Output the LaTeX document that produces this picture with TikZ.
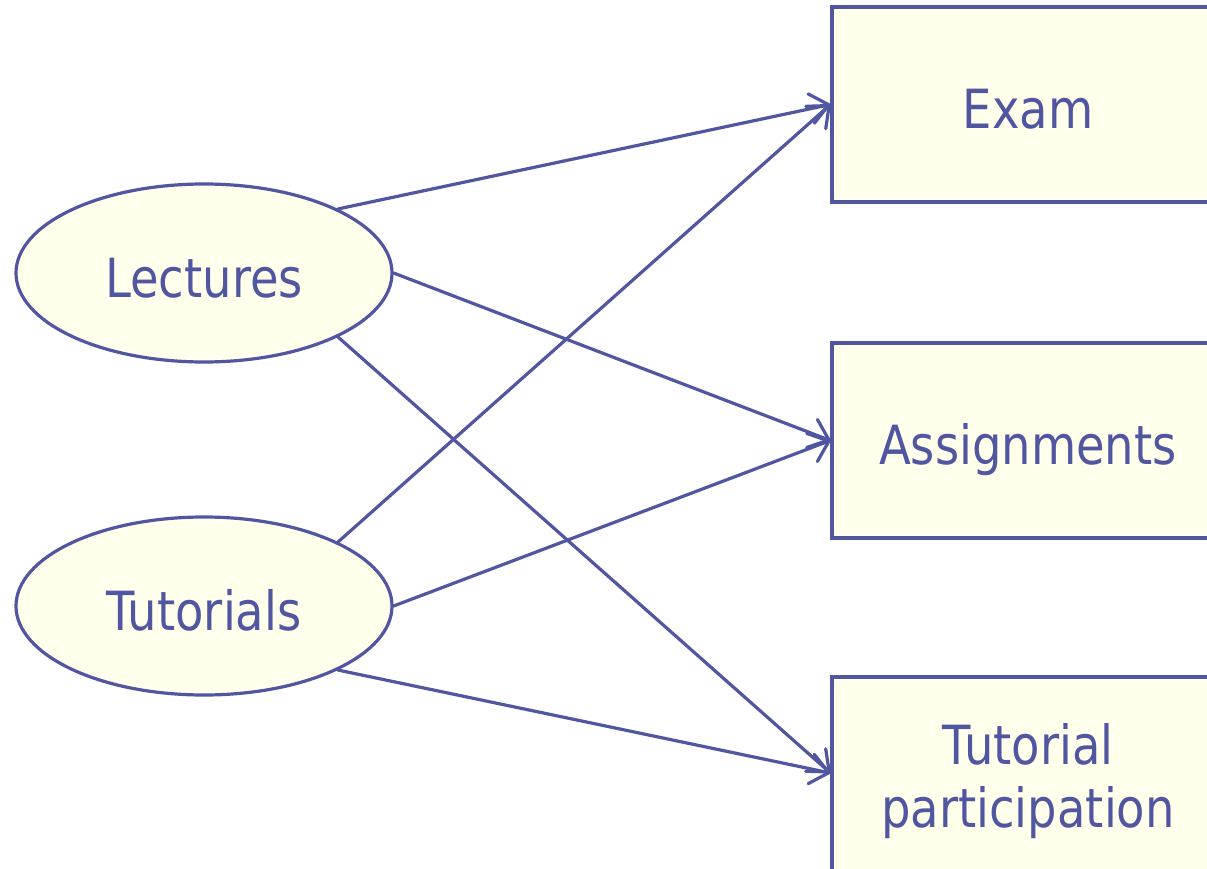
\documentclass[tikz,border=0pt]{standalone}
\usepackage{fontspec}
\setmainfont[FakeStretch=0.86]{DejaVu Sans}
\usetikzlibrary{shapes.geometric,arrows.meta}
\definecolor{lineBlue}{RGB}{80,86,160}
\definecolor{paleYellow}{RGB}{255,255,235}
\begin{document}
\begin{tikzpicture}
[x=1pt,y=-1pt,%
  lineDecorate/.style={-{Straight Barb[length=18pt,width=30pt,round]},line width=3.2pt,draw=lineBlue,line cap=round},%
  singleLine/.style={text height=48pt,text depth=0pt},%
  tallBox/.style={minimum height=209pt},%
  ovalDecorate/.style={shape=ellipse,draw=lineBlue,fill=paleYellow,line width=3.2pt,
    minimum width=376pt,minimum height=178pt,inner sep=0pt,text=lineBlue,
    singleLine,font=\fontsize{54}{63}\selectfont},%
  boxDecorate/.style={shape=rectangle,draw=lineBlue,fill=paleYellow,line width=3.2pt,
    minimum width=392pt,minimum height=195pt,inner sep=0pt,text=lineBlue,align=center,
    font=\fontsize{54}{63}\selectfont}]
\useasboundingbox (0,0) rectangle (1207,869);
%% sources
\foreach \nodename/\x/\y/\txt in {
  lectures/204/273/Lectures, tutorials/204/606/Tutorials}
{
  \node (\nodename) at (\x,\y) [ovalDecorate] {\txt};
}
%% assessment boxes
\foreach \nodename/\y/\opt/\txt in {
  exam/104.5/singleLine/Exam,
  assignments/440.5/singleLine/Assignments,
  participation/781.5/tallBox/{Tutorial\\participation}}
{
  \node (\nodename) at (1028,\y) [boxDecorate,\opt] {\txt};
}
\coordinate (participationIn) at (participation.west |- 0,773);
%% arrows
\path
\foreach \startnode/\endnode in {
  lectures.north east/exam.west, lectures.east/assignments.west,
  lectures.south east/participationIn, tutorials.north east/exam.west,
  tutorials.east/assignments.west, tutorials.south east/participationIn}
{
  (\startnode) edge[lineDecorate] (\endnode)
};
\end{tikzpicture}
\end{document}
